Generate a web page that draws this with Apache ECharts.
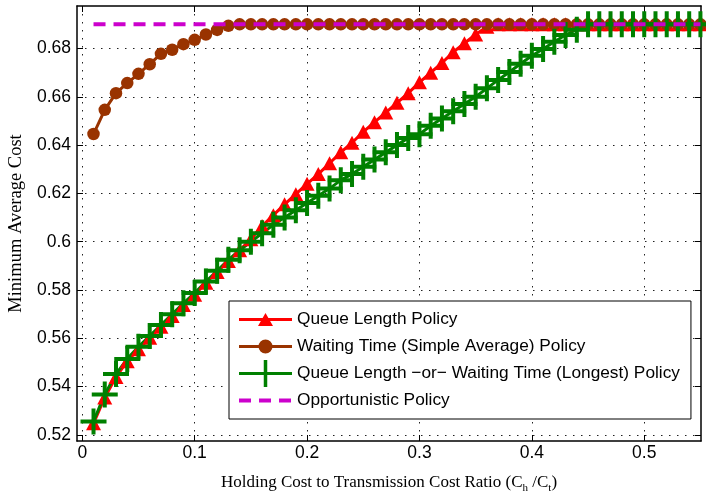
<!DOCTYPE html>
<html><head><meta charset="utf-8">
<script src="https://cdn.jsdelivr.net/npm/echarts@6/dist/echarts.min.js"></script>
<style>html,body{margin:0;padding:0;background:#fff}#c{width:706px;height:495px}</style>
</head><body><div id="c"></div>
<script>
// ---- data ----
const xValues = [0.01,0.02,0.03,0.04,0.05,0.06,0.07,0.08,0.09,0.10,
  0.11,0.12,0.13,0.14,0.15,0.16,0.17,0.18,0.19,0.20,
  0.21,0.22,0.23,0.24,0.25,0.26,0.27,0.28,0.29,0.30,
  0.31,0.32,0.33,0.34,0.35,0.36,0.37,0.38,0.39,0.40,
  0.41,0.42,0.43,0.44,0.45,0.46,0.47,0.48,0.49,0.50,
  0.51,0.52,0.53,0.54,0.55];
const queueLength = [0.5248,0.5355,0.5440,0.5505,0.5555,0.5602,0.5648,0.5693,0.5738,0.5780,
  0.5830,0.5875,0.5920,0.5965,0.6010,0.6065,0.6110,0.6155,0.6197,0.6240,
  0.6280,0.6325,0.6370,0.6410,0.6455,0.6495,0.6535,0.6575,0.6615,0.6660,
  0.6700,0.6740,0.6785,0.6822,0.6858,0.6890,0.6900,0.6900,0.6900,0.6900,
  0.6900,0.6900,0.6900,0.6900,0.6900,0.6900,0.6900,0.6900,0.6900,0.6900,
  0.6900,0.6900,0.6900,0.6900,0.6900];
const waitingTime = [0.6446,0.6546,0.6615,0.6657,0.6695,0.6735,0.6778,0.6795,0.6818,0.6836,
  0.6858,0.6877,0.6894,0.6900,0.6900,0.6900,0.6900,0.6900,0.6900,0.6900,
  0.6900,0.6900,0.6900,0.6900,0.6900,0.6900,0.6900,0.6900,0.6900,0.6900,
  0.6900,0.6900,0.6900,0.6900,0.6900,0.6900,0.6900,0.6900,0.6900,0.6900,
  0.6900,0.6900,0.6900,0.6900,0.6900,0.6900,0.6900,0.6900,0.6900,0.6900,
  0.6900,0.6900,0.6900,0.6900,0.6900];
const longestPolicy = [0.5256,0.5368,0.5452,0.5515,0.5565,0.5610,0.5655,0.5700,0.5745,0.5788,
  0.5835,0.5880,0.5925,0.5965,0.6000,0.6035,0.6070,0.6100,0.6130,0.6160,
  0.6190,0.6220,0.6255,0.6280,0.6310,0.6340,0.6370,0.6400,0.6430,0.6445,
  0.6480,0.6510,0.6540,0.6570,0.6600,0.6635,0.6670,0.6703,0.6737,0.6770,
  0.6798,0.6828,0.6856,0.6878,0.6900,0.6900,0.6900,0.6900,0.6900,0.6900,
  0.6900,0.6900,0.6900,0.6900,0.6900];
const opportunisticX = [0.01, 0.55];
const opportunisticY = [0.69, 0.69];
const xTicks = [0, 0.1, 0.2, 0.3, 0.4, 0.5];
const yTicks = [0.52, 0.54, 0.56, 0.58, 0.6, 0.62, 0.64, 0.66, 0.68];
const seriesNames = ['Queue Length Policy', 'Waiting Time (Simple Average) Policy',
  'Queue Length \u2212or\u2212 Waiting Time (Longest) Policy', 'Opportunistic Policy'];
const xTitle = 'Holding Cost to Transmission Cost Ratio (C{s|h} /C{s|t})';
const yTitle = 'Minimum Average Cost';

// ---- chart ----
const pair = (xs, ys) => xs.map((x, i) => [x, ys[i]]);
const crossPath = 'path://M11,0H15V11H26V15H15V26H11V15H0V11H11Z';
// tiny invisible corner specks fix each legend icon's box to 53x27
const corners = ' M0,0L0.01,0L0,0.01Z M53,27L52.99,27L53,26.99Z';
const gridDots = { show: true, lineStyle: { color: '#222', width: 1, type: [1.5, 6.5] } };
const frameLine = { show: true, onZero: false, lineStyle: { color: '#000', width: 1.5 } };
const tickIn = (vals) => ({ show: true, inside: true, length: 6, customValues: vals, lineStyle: { color: '#000', width: 1 } });
const labelFont = { fontFamily: 'Liberation Sans', fontSize: 17.5, color: '#000' };
const xMin = -0.0047, xMax = 0.5505, yMin = 0.5175, yMax = 0.6976;

const chart = echarts.init(document.getElementById('c'), null, { renderer: 'canvas' });
chart.setOption({
  animation: false,
  backgroundColor: '#fff',
  grid: { left: 77, right: 5, top: 6, bottom: 54, containLabel: false, outerBoundsMode: 'none' },
  xAxis: [
    { type: 'value', position: 'bottom', min: xMin, max: xMax,
      axisLine: frameLine, axisTick: tickIn(xTicks),
      axisLabel: Object.assign({ customValues: xTicks, margin: 3 }, labelFont),
      splitLine: gridDots,
      name: xTitle, nameLocation: 'middle', nameGap: 31,
      nameTextStyle: { fontFamily: 'Liberation Serif', fontSize: 17, color: '#000', lineHeight: 22,
        rich: { s: { fontFamily: 'Liberation Serif', fontSize: 11, lineHeight: 11, verticalAlign: 'bottom', color: '#000' } } } },
    { type: 'value', position: 'top', min: xMin, max: xMax,
      axisLine: frameLine, axisTick: tickIn(xTicks), axisLabel: { show: false }, splitLine: { show: false } }
  ],
  yAxis: [
    { type: 'value', position: 'left', min: yMin, max: yMax,
      axisLine: frameLine, axisTick: tickIn(yTicks),
      axisLabel: Object.assign({ customValues: yTicks, margin: 6 }, labelFont),
      splitLine: gridDots,
      name: yTitle, nameLocation: 'middle', nameGap: 43, nameRotate: 90,
      nameTextStyle: { fontFamily: 'Liberation Serif', fontSize: 18.5, color: '#000' } },
    { type: 'value', position: 'right', min: yMin, max: yMax,
      axisLine: frameLine, axisTick: tickIn(yTicks), axisLabel: { show: false }, splitLine: { show: false } }
  ],
  legend: {
    orient: 'vertical', left: 229, top: 301,
    padding: [5, 11, 5, 10], itemGap: 0, itemWidth: 53, itemHeight: 27,
    backgroundColor: '#fff', borderColor: '#000', borderWidth: 1,
    itemStyle: { borderWidth: 0 },
    textStyle: { fontFamily: 'Liberation Sans', fontSize: 17.3, color: '#000' },
    data: [
      { name: seriesNames[0], icon: 'path://M0,12H53V15H0Z M19,20L26.5,7L34,20Z' + corners },
      { name: seriesNames[1], icon: 'path://M0,12H53V15H0Z M19.5,13.5A7,7 0 1 1 33.5,13.5A7,7 0 1 1 19.5,13.5Z' + corners },
      { name: seriesNames[2], icon: 'path://M0,12H53V15H0Z M24.75,0H28.25V27H24.75Z' + corners },
      { name: seriesNames[3], icon: 'path://M0,11.5H12V15.5H0Z M20,11.5H32V15.5H20Z M40,11.5H52V15.5H40Z' + corners }
    ]
  },
  series: [
    { name: seriesNames[0], type: 'line', data: pair(xValues, queueLength), z: 2,
      color: '#FF0000', symbol: 'triangle', symbolSize: [15, 14], showSymbol: true,
      lineStyle: { width: 3, color: '#FF0000' }, itemStyle: { color: '#FF0000', borderWidth: 0 },
      emphasis: { disabled: true } },
    { name: seriesNames[1], type: 'line', data: pair(xValues, waitingTime), z: 2,
      color: '#993300', symbol: 'circle', symbolSize: 12.5, showSymbol: true,
      lineStyle: { width: 3, color: '#993300' }, itemStyle: { color: '#993300', borderWidth: 0 },
      emphasis: { disabled: true } },
    { name: seriesNames[2], type: 'line', data: pair(xValues, longestPolicy), z: 2,
      color: '#008000', symbol: crossPath, symbolSize: [26, 26], showSymbol: true,
      lineStyle: { width: 3, color: '#008000' }, itemStyle: { color: '#008000', borderWidth: 0 },
      emphasis: { disabled: true } },
    { name: seriesNames[3], type: 'line', data: pair(opportunisticX, opportunisticY), z: 3,
      color: '#CC00CC', symbol: 'none',
      lineStyle: { width: 4, color: '#CC00CC', type: [12, 8], cap: 'butt' },
      emphasis: { disabled: true } }
  ]
});
</script></body></html>
